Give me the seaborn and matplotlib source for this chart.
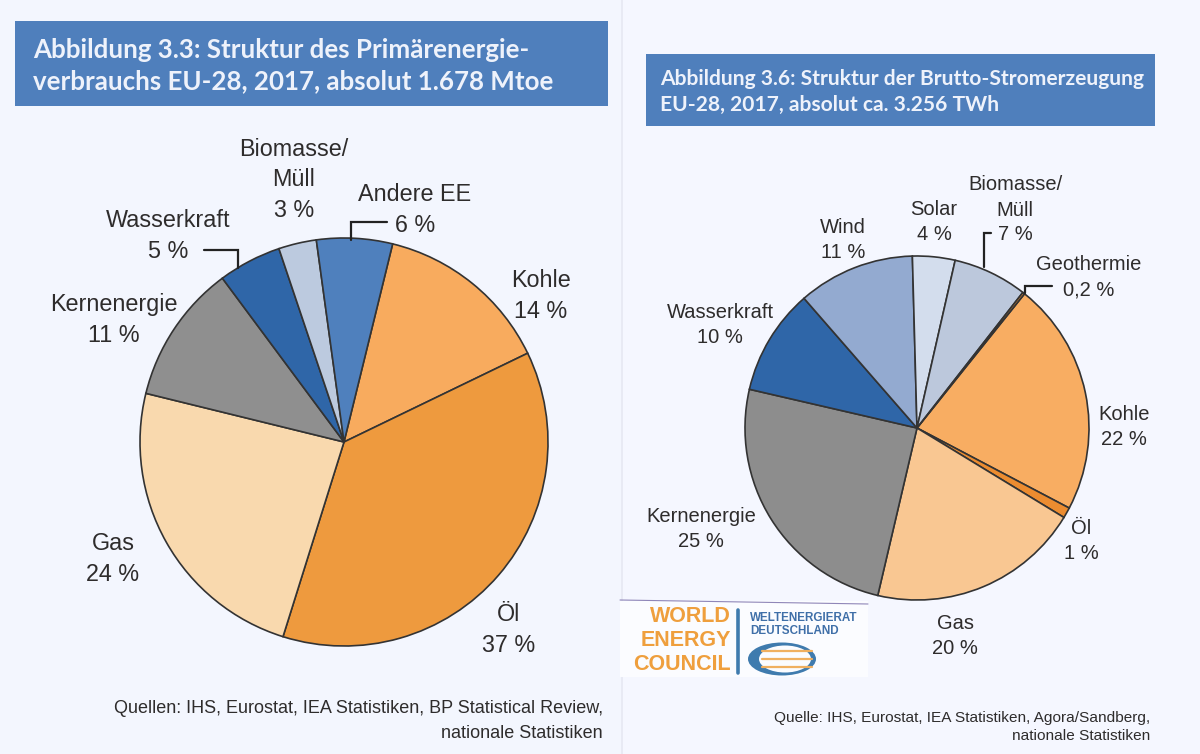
# Zwei Kreisdiagramme: Primaerenergie und Stromerzeugung EU-28, 2017
import matplotlib
matplotlib.use('Agg')
import matplotlib.pyplot as plt
from matplotlib.patches import Rectangle, Ellipse
import seaborn as sns

# Daten links (Abbildung 3.3)
left_names = ['Kohle', 'Öl', 'Gas', 'Kernenergie', 'Wasserkraft', 'Biomasse/Müll', 'Andere EE']
left_values = [14, 37, 24, 11, 5, 3, 6]
left_colors = ['#f8ab5e', '#ee9a3e', '#f9d9ae', '#8f8f8f', '#2f66a8', '#bccadf', '#4f80bd']

# Daten rechts (Abbildung 3.6)
right_names = ['Kohle', 'Öl', 'Gas', 'Kernenergie', 'Wasserkraft', 'Wind', 'Solar', 'Biomasse/Müll', 'Geothermie']
right_values = [22, 1, 20, 25, 10, 11, 4, 7, 0.2]
right_colors = ['#f8ad62', '#ec8c30', '#f9c792', '#8d8d8d', '#2f66a8', '#93aad0', '#d3dded', '#bcc8dc', '#f09030']

left_title = 'Abbildung 3.3: Struktur des Primärenergie-\nverbrauchs EU-28, 2017, absolut 1.678 Mtoe'
right_title = 'Abbildung 3.6: Struktur der Brutto-Stromerzeugung\nEU-28, 2017, absolut ca. 3.256 TWh'
left_source = 'Quellen: IHS, Eurostat, IEA Statistiken, BP Statistical Review,\nnationale Statistiken'
right_source = 'Quelle: IHS, Eurostat, IEA Statistiken, Agora/Sandberg,\nnationale Statistiken'

PAPER = '#f3f6fe'
HEADER = '#4f7fbc'
INK = '#2e2c2c'
FONTS = ['Liberation Sans', 'DejaVu Sans']
HEAD_FONTS = ['Lato', 'Liberation Sans']

sns.set_theme(style='white')
plt.rcParams['font.family'] = FONTS

fig = plt.figure(figsize=(12, 7.54), dpi=100, facecolor=PAPER)
ax = fig.add_axes([0, 0, 1, 1])


def py(y):
    # Pixel von oben gemessen
    return 754 - y


def label(x, y, txt, size, **kw):
    ax.text(x, py(y), txt, fontsize=size, color=kw.pop('color', INK), ha=kw.pop('ha', 'center'),
            va='center', linespacing=kw.pop('linespacing', 1.4), **kw)


def leader(xs, ys):
    ax.plot(xs, [py(v) for v in ys], color='#222222', lw=1.6, solid_joinstyle='miter', zorder=5)


def draw_pie(values, colors, center, radius, start):
    ax.pie(values, colors=sns.color_palette(colors), center=(center[0], py(center[1])), radius=radius,
           startangle=start, counterclock=False, frame=True,
           wedgeprops={'edgecolor': '#333333', 'linewidth': 1.2})


# Kreise
draw_pie(left_values, left_colors, (344, 442), 204, 76.2)
draw_pie(right_values, right_colors, (917, 428), 172, 51.3)
ax.set_xlim(0, 1200)
ax.set_ylim(0, 754)
ax.set_aspect('equal')
ax.axis('off')

# Papierfalz
ax.add_patch(Rectangle((622, 0), 600, 754, fc='#f5f7ff', ec='none', zorder=0))
ax.plot([622, 622], [0, 754], color='#e6e8f2', lw=1.2, zorder=0)

# Kopfzeilen
ax.add_patch(Rectangle((15, py(106)), 593, 85, fc=HEADER, ec='none'))
ax.add_patch(Rectangle((646, py(126)), 509, 72, fc=HEADER, ec='none'))
label(33, 66, left_title, 18.6, color='#eef2fb', ha='left', family=HEAD_FONTS, fontweight='bold', linespacing=1.35)
label(660, 92, right_title, 15.1, color='#eef2fb', ha='left', family=HEAD_FONTS, fontweight='bold', linespacing=1.4)

# Beschriftung links
label(294, 180, 'Biomasse/\nMüll\n3 %', 16.8)
label(415, 210, 'Andere EE\n6 %', 16.8)
label(168, 236, 'Wasserkraft\n5 %', 16.8)
label(114, 320, 'Kernenergie\n11 %', 16.8)
label(541, 296, 'Kohle\n14 %', 16.8)
label(113, 559, 'Gas\n24 %', 16.8)
label(509, 630, 'Öl\n37 %', 16.8)
leader([351, 351, 387], [240, 222, 222])
leader([204, 238, 238], [250, 250, 268])

# Beschriftung rechts
label(1015, 210, 'Biomasse/\nMüll\n7 %', 14.5)
label(934, 222, 'Solar\n4 %', 14.5)
label(843, 240, 'Wind\n11 %', 14.5)
label(720, 325, 'Wasserkraft\n10 %', 14.5)
label(1089, 277, 'Geothermie\n0,2 %', 14.5)
label(1124, 427, 'Kohle\n22 %', 14.5)
label(701, 529, 'Kernenergie\n25 %', 14.5)
label(955, 636, 'Gas\n20 %', 14.5)
label(1081, 541, 'Öl\n1 %', 14.5)
leader([984, 984, 991], [267, 233, 233])
leader([1025, 1025, 1052], [293, 286, 286])

# Quellen
ax.text(603, py(721), left_source, fontsize=13, color=INK, ha='right', va='center', linespacing=1.55)
ax.text(1150, py(727), right_source, fontsize=11.1, color=INK, ha='right', va='center', linespacing=1.3)

# Logo
ax.add_patch(Rectangle((620, py(677)), 248, 76, fc='#fbfcff', ec='none', zorder=1))
ax.plot([620, 868], [py(600), py(604)], color='#8f86b8', lw=0.8, zorder=2)
for word, yy in zip(['WORLD', 'ENERGY', 'COUNCIL'], [617, 641, 665]):
    label(731, yy, word, 15.5, color='#ef9f3d', ha='right', fontweight='bold', zorder=3)
ax.plot([738, 738], [py(610), py(673)], color='#3f7bae', lw=2.6, zorder=3)
label(750, 618, 'WELTENERGIERAT', 8.4, color='#3f6fa8', ha='left', fontweight='bold', zorder=3)
label(750, 631, 'DEUTSCHLAND', 8.4, color='#3f6fa8', ha='left', fontweight='bold', zorder=3)
ax.add_patch(Ellipse((782, py(659)), 68, 33, fc='#3f7bae', ec='none', zorder=3))
ax.add_patch(Ellipse((785, py(659)), 52, 27, fc='#fbfcff', ec='none', zorder=3))
for yy in [651, 659, 667]:
    ax.plot([762, 812], [py(yy), py(yy)], color='#f0b060', lw=1.6, zorder=4)

fig.savefig('out.png', dpi=100, facecolor=PAPER)
plt.close(fig)
